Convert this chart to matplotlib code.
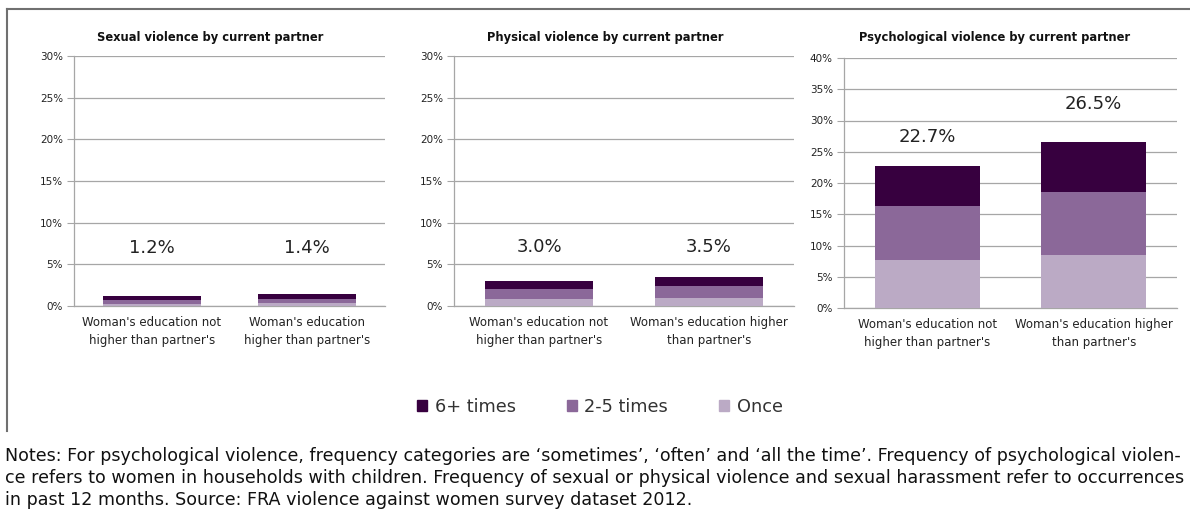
import matplotlib
matplotlib.use("Agg")
import matplotlib.pyplot as plt
from matplotlib.lines import Line2D
from matplotlib.patches import Patch
import numpy as np

# data (percent)
categories = ["Woman's education not\nhigher than partner's",
              "Woman's education\nhigher than partner's"]
categories_wide = ["Woman's education not\nhigher than partner's",
                   "Woman's education higher\nthan partner's"]
titles = ["Sexual violence by current partner",
          "Physical violence by current partner",
          "Psychological violence by current partner"]
series_names = ["6+ times", "2-5 times", "Once"]

sexual_once = [0.3, 0.4]
sexual_2_5 = [0.45, 0.5]
sexual_6 = [0.45, 0.5]
sexual_total = [1.2, 1.4]

physical_once = [0.8, 1.0]
physical_2_5 = [1.2, 1.4]
physical_6 = [1.0, 1.1]
physical_total = [3.0, 3.5]

psych_once = [7.7, 8.5]
psych_2_5 = [8.7, 10.1]
psych_6 = [6.3, 7.9]
psych_total = [22.7, 26.5]

y_max = [30, 30, 40]

# styling
C_6 = "#37003f"
C_25 = "#8b6899"
C_1 = "#bbaac5"
GRID = "#a6a6a6"
TXT = "#222222"
label_y = [[7.0, 7.0], [7.1, 7.1], [27.4, 32.6]]

fig = plt.figure(figsize=(11.9, 5.14), dpi=100)
W, H = 1190, 514

def frac(x0, y0, x1, y1):
    return [x0 / W, 1 - y1 / H, (x1 - x0) / W, (y1 - y0) / H]

rects = [frac(74, 56, 385, 306), frac(454, 56, 794, 306), frac(844, 58, 1177, 308)]
panels = [
    (sexual_once, sexual_2_5, sexual_6, sexual_total, categories),
    (physical_once, physical_2_5, physical_6, physical_total, categories_wide),
    (psych_once, psych_2_5, psych_6, psych_total, categories_wide),
]
title_x = [210, 605, 995]

for i, (once, mid, six, tot, cats) in enumerate(panels):
    ax = fig.add_axes(rects[i])
    x = np.arange(len(cats))
    once = np.array(once); mid = np.array(mid); six = np.array(six)
    ax.bar(x, once, width=0.63, color=C_1, zorder=3)
    ax.bar(x, mid, width=0.63, bottom=once, color=C_25, zorder=3)
    ax.bar(x, six, width=0.63, bottom=once + mid, color=C_6, zorder=3)
    for j, t in enumerate(tot):
        ax.text(x[j], label_y[i][j], f"{t:.1f}%", ha="center", va="center",
                fontsize=13, color=TXT)
    ax.set_xlim(-0.5, len(cats) - 0.5)
    ax.set_ylim(0, y_max[i])
    ticks = np.arange(0, y_max[i] + 1, 5)
    ax.set_yticks(ticks)
    ax.set_yticklabels([f"{t}%" for t in ticks], fontsize=7.5, color=TXT)
    ax.set_xticks(x)
    ax.set_xticklabels(cats, fontsize=8.5, color=TXT, linespacing=1.5)
    ax.tick_params(axis="x", length=0, pad=7)
    ax.tick_params(axis="y", length=5, color=GRID, pad=3)
    ax.grid(axis="y", color=GRID, lw=0.9, zorder=0)
    for s in ("top", "right"):
        ax.spines[s].set_visible(False)
    for s in ("left", "bottom"):
        ax.spines[s].set_color(GRID)
        ax.spines[s].set_linewidth(0.9)
    fig.text(title_x[i] / W, 1 - 38 / H, titles[i], ha="center", va="center",
             fontsize=8.3, fontweight="bold", color="#111111")

# legend
handles = [Patch(color=C_6), Patch(color=C_25), Patch(color=C_1)]
fig.legend(handles, series_names, loc="center", bbox_to_anchor=(600 / W, 1 - 407 / H),
           ncol=3, frameon=False, fontsize=12.8, handlelength=0.56, handleheight=0.56,
           handletextpad=0.4, columnspacing=2.9, labelcolor="#333333")

# frame (top and left edges only)
fig.add_artist(Line2D([7 / W, 1.0], [1 - 9 / H, 1 - 9 / H], color="#707070", lw=1.5))
fig.add_artist(Line2D([7 / W, 7 / W], [1 - 9 / H, 1 - 431 / H], color="#707070", lw=1.5))

notes = [
    "Notes: For psychological violence, frequency categories are \u2018sometimes\u2019, \u2018often\u2019 and \u2018all the time\u2019. Frequency of psychological violen-",
    "ce refers to women in households with children. Frequency of sexual or physical violence and sexual harassment refer to occurrences",
    "in past 12 months. Source: FRA violence against women survey dataset 2012.",
]
for k, line in enumerate(notes):
    fig.text(5 / W, 1 - (456 + 22 * k) / H, line, ha="left", va="center",
             fontsize=12.6, color="#111111")

fig.savefig("out.png", dpi=100)
